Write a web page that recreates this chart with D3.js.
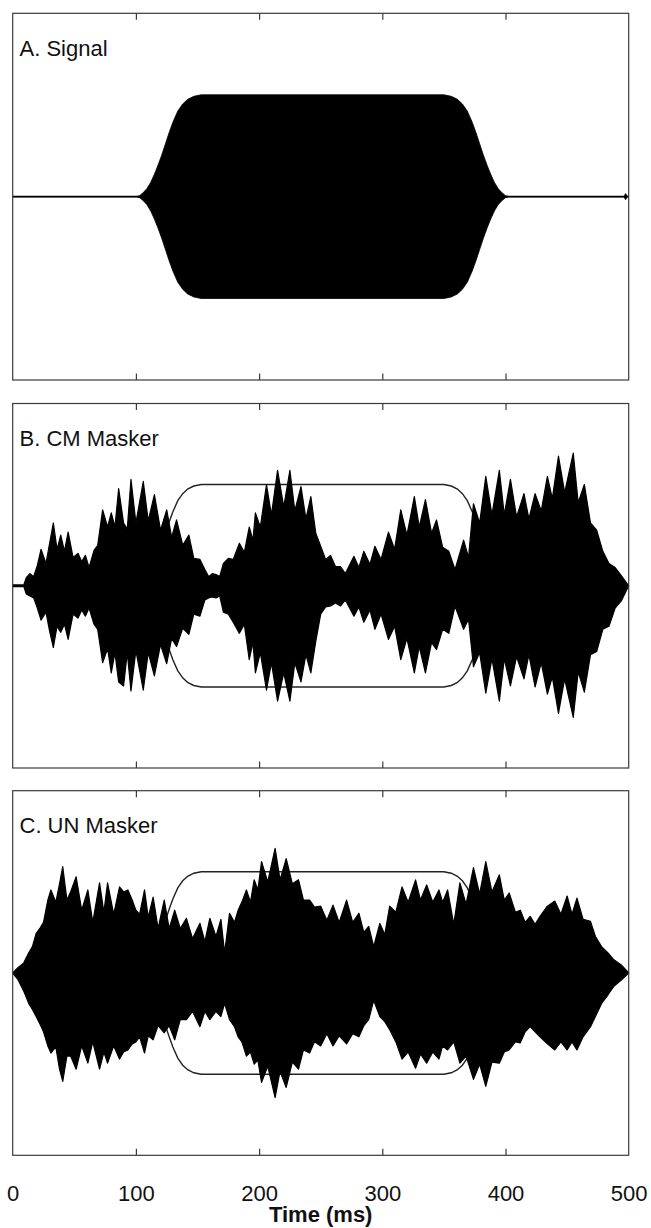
<!DOCTYPE html>
<html>
<head>
<meta charset="utf-8">
<script src="https://cdn.jsdelivr.net/npm/d3@7/dist/d3.min.js"></script>
<style>
  html, body { margin: 0; padding: 0; background: #fff; }
  svg { display: block; }
  text { font-family: "Liberation Sans", Arial, Helvetica, sans-serif; }
</style>
</head>
<body>
<div id="chart"></div>
<script>
// ---------------- DATA ----------------
const panelTitles = ["A. Signal", "B. CM Masker", "C. UN Masker"];
const xTicks = [0, 100, 200, 300, 400, 500];
const xLabel = "Time (ms)";

// Signal envelope (ms, amplitude)
const sigTime = [0, 100, 103, 106, 109, 112, 115, 118, 121, 124, 127, 130, 134, 138, 142, 147, 153,
                 350, 356, 361, 365, 369, 373, 376, 379, 382, 385, 388, 391, 394, 397, 400, 403,
                 496, 497.5, 499, 500];
const sigEnv  = [0, 0, 0.01, 0.04, 0.08, 0.14, 0.22, 0.31, 0.41, 0.52, 0.63, 0.73, 0.84, 0.91, 0.955, 0.985, 1.0,
                 1.0, 0.985, 0.955, 0.91, 0.84, 0.73, 0.63, 0.52, 0.41, 0.31, 0.22, 0.14, 0.08, 0.04, 0.01, 0,
                 0, 0.03, 0, 0];

// CM masker envelope: time (ms), upper extent, lower extent
const cmTime = [0, 9, 11, 14, 17, 20, 23, 27, 30, 33, 36, 39, 42, 45, 49, 53, 56, 59, 62, 66, 69, 73, 77, 80, 83, 86, 90, 93, 96, 100,
  106, 110, 115, 120, 125, 129, 133, 138, 143, 147, 152, 156, 159, 162, 165, 168, 171, 175, 179, 184, 188, 192, 195, 197, 201,
  206, 210, 215, 220, 225, 229, 234, 238, 242, 246, 250, 254, 258, 262, 266, 270, 277, 281, 285, 290, 294, 299, 305, 310,
  315, 320, 326, 330, 335, 340, 344, 349, 354, 359, 366, 370, 374, 379, 384, 389, 395, 399, 404, 409, 415, 419, 424, 429,
  434, 438, 443, 448, 455, 459, 464, 469, 474, 479, 484, 489, 494, 500];
const cmTop = [0.008, 0.008, 0.08, 0.12, 0.09, 0.20, 0.36, 0.22, 0.42, 0.62, 0.36, 0.50, 0.34, 0.53, 0.28, 0.32, 0.24, 0.30, 0.18, 0.35, 0.40, 0.75, 0.58, 0.72, 0.58, 0.96, 0.62, 0.56, 1.05, 0.62,
  1.03, 0.64, 0.90, 0.55, 0.75, 0.48, 0.65, 0.40, 0.50, 0.27, 0.26, 0.16, 0.09, 0.12, 0.11, 0.09, 0.22, 0.27, 0.26, 0.42, 0.33, 0.58, 0.45, 0.72, 0.58,
  1.00, 0.70, 1.14, 0.78, 1.14, 0.74, 0.98, 0.66, 0.88, 0.52, 0.39, 0.26, 0.30, 0.19, 0.19, 0.12, 0.29, 0.18, 0.34, 0.21, 0.39, 0.26, 0.53, 0.36,
  0.75, 0.50, 0.88, 0.58, 0.85, 0.52, 0.65, 0.38, 0.34, 0.16, 0.45, 0.28, 0.81, 0.62, 1.08, 0.70, 1.14, 0.70, 1.05, 0.68, 0.91, 0.66, 0.91, 0.74,
  1.08, 0.86, 1.28, 0.92, 1.31, 0.82, 1.00, 0.62, 0.55, 0.34, 0.22, 0.18, 0.10, 0.0];
const cmBot = [0.008, 0.008, 0.08, 0.10, 0.12, 0.22, 0.34, 0.26, 0.45, 0.61, 0.40, 0.46, 0.38, 0.53, 0.28, 0.32, 0.24, 0.30, 0.22, 0.38, 0.43, 0.76, 0.62, 0.86, 0.66, 0.95, 0.99, 0.66, 1.04, 0.64,
  1.03, 0.66, 0.89, 0.58, 0.77, 0.52, 0.60, 0.42, 0.48, 0.28, 0.30, 0.14, 0.12, 0.11, 0.12, 0.10, 0.26, 0.28, 0.36, 0.47, 0.38, 0.73, 0.56, 0.86, 0.66,
  1.03, 0.76, 1.14, 0.86, 1.14, 0.76, 0.95, 0.68, 0.86, 0.55, 0.28, 0.21, 0.20, 0.17, 0.20, 0.14, 0.30, 0.21, 0.36, 0.24, 0.43, 0.28, 0.53, 0.40,
  0.73, 0.52, 0.86, 0.60, 0.86, 0.56, 0.63, 0.43, 0.47, 0.20, 0.43, 0.33, 0.80, 0.66, 1.06, 0.72, 1.14, 0.72, 0.99, 0.70, 0.92, 0.68, 1.00, 0.76,
  1.07, 0.90, 1.26, 0.92, 1.30, 0.85, 1.05, 0.68, 0.65, 0.43, 0.40, 0.22, 0.15, 0.0];

// UN masker envelope: time (ms), upper extent, lower extent
const unTime = [0, 4, 9, 13, 16, 19, 22, 25, 28.5, 31, 35, 38, 40.6, 44, 47, 51.5, 56, 61, 65, 70.5, 74, 77, 82, 86.7, 90, 93.5, 97, 100,
  103, 107, 110, 114, 118, 123, 127, 131.5, 136, 141, 146, 152, 156, 160, 165, 169, 172, 176, 180, 183, 186, 189.7, 193, 196, 199,
  202, 207, 213, 217, 222, 227, 232, 236, 241, 245, 250, 255, 260, 265, 271, 276, 281, 285, 289, 293, 298, 302, 306, 311,
  316, 321, 327, 331, 336, 341, 346, 349, 353, 358, 363, 368, 374, 379, 384, 389, 395, 399, 403, 408, 412, 416, 420, 424,
  428, 434, 440, 445, 450, 454, 458, 463, 469, 473, 478, 483, 488, 494, 500];
const unTop = [0.0, 0.05, 0.10, 0.20, 0.26, 0.39, 0.44, 0.50, 0.72, 0.82, 0.70, 0.88, 1.05, 0.72, 0.80, 0.95, 0.62, 0.82, 0.50, 0.89, 0.60, 0.89, 0.58, 0.85, 0.80, 0.82, 0.72, 0.62,
  0.58, 0.82, 0.55, 0.75, 0.44, 0.72, 0.44, 0.62, 0.44, 0.54, 0.34, 0.49, 0.31, 0.54, 0.36, 0.53, 0.20, 0.59, 0.50, 0.62, 0.70, 0.82, 0.70, 0.92, 0.82,
  1.10, 0.90, 1.23, 0.92, 1.13, 0.88, 0.92, 0.72, 0.72, 0.65, 0.66, 0.52, 0.67, 0.50, 0.72, 0.50, 0.59, 0.40, 0.46, 0.26, 0.49, 0.38, 0.66, 0.60,
  0.85, 0.70, 0.92, 0.72, 0.87, 0.70, 0.82, 0.70, 0.82, 0.48, 0.89, 0.68, 1.04, 0.78, 1.10, 0.80, 0.97, 0.72, 0.79, 0.60, 0.62, 0.50, 0.56, 0.48,
  0.56, 0.66, 0.71, 0.58, 0.76, 0.58, 0.74, 0.53, 0.51, 0.36, 0.26, 0.20, 0.13, 0.08, 0.0];
const unBot = [0.0, 0.06, 0.18, 0.30, 0.36, 0.43, 0.50, 0.58, 0.72, 0.79, 0.73, 0.95, 1.07, 0.82, 0.82, 0.95, 0.72, 0.89, 0.68, 0.95, 0.78, 0.89, 0.72, 0.85, 0.78, 0.76, 0.70, 0.68,
  0.63, 0.79, 0.62, 0.66, 0.52, 0.59, 0.52, 0.66, 0.46, 0.46, 0.38, 0.53, 0.38, 0.46, 0.38, 0.43, 0.30, 0.46, 0.53, 0.63, 0.68, 0.82, 0.78, 0.90, 0.86,
  1.08, 0.92, 1.23, 0.97, 1.13, 0.88, 0.95, 0.76, 0.79, 0.68, 0.72, 0.60, 0.72, 0.62, 0.70, 0.60, 0.63, 0.52, 0.46, 0.27, 0.43, 0.48, 0.56, 0.68,
  0.85, 0.78, 0.94, 0.80, 0.89, 0.78, 0.85, 0.72, 0.76, 0.68, 0.89, 0.82, 1.05, 0.90, 1.12, 0.88, 0.89, 0.78, 0.76, 0.68, 0.69, 0.58, 0.53, 0.58,
  0.63, 0.70, 0.76, 0.68, 0.76, 0.68, 0.76, 0.63, 0.53, 0.43, 0.30, 0.22, 0.13, 0.07, 0.0];

// ---------------- LAYOUT ----------------
const W = 651, H = 1228;
const left = 12.7, right = 628.7;
const panels = [
  { top: 13.3, bottom: 380 },
  { top: 403.5, bottom: 768 },
  { top: 790.7, bottom: 1155.3 }
];

const svg = d3.select("#chart").append("svg").attr("width", W).attr("height", H);
const x = d3.scaleLinear().domain([0, 500]).range([left, right]);

function rows(t, a, b) { return t.map((d, i) => ({ t: d, hi: a[i], lo: b ? b[i] : a[i] })); }
const sigRows = rows(sigTime, sigEnv);
const maskers = [null, rows(cmTime, cmTop, cmBot), rows(unTime, unTop, unBot)];

panels.forEach((p, i) => {
  const y = d3.scaleLinear().domain([-1.8, 1.8]).range([p.bottom, p.top]);
  const g = svg.append("g");

  const area = d3.area().x(d => x(d.t)).y0(d => y(-d.lo)).y1(d => y(d.hi));

  if (i === 0) {
    g.append("line").attr("x1", x(0)).attr("x2", x(500)).attr("y1", y(0)).attr("y2", y(0))
      .attr("stroke", "#000").attr("stroke-width", 1.6);
    g.append("path").datum(sigRows).attr("d", area)
      .attr("fill", "#000").attr("stroke", "#000").attr("stroke-width", 0.8);
  } else {
    // signal outline first (sits under the masker, visible only in the gaps)
    const lineTop = d3.line().x(d => x(d.t)).y(d => y(d.hi));
    const lineBot = d3.line().x(d => x(d.t)).y(d => y(-d.hi));
    const outline = sigRows.filter(d => d.t >= 100 && d.t <= 403);
    g.append("path").datum(outline).attr("d", lineTop).attr("fill", "none").attr("stroke", "#222").attr("stroke-width", 1.4);
    g.append("path").datum(outline).attr("d", lineBot).attr("fill", "none").attr("stroke", "#222").attr("stroke-width", 1.4);
    g.append("path").datum(maskers[i]).attr("d", area)
      .attr("fill", "#000").attr("stroke", "#000").attr("stroke-width", 1.2).attr("stroke-linejoin", "round");
  }

  // frame
  g.append("rect").attr("x", left).attr("y", p.top).attr("width", right - left).attr("height", p.bottom - p.top)
    .attr("fill", "none").attr("stroke", "#3a3a3a").attr("stroke-width", 1.2);

  // inner ticks top & bottom
  const topAxis = d3.axisBottom(x).tickValues(xTicks.slice(1, -1)).tickSize(6.5).tickFormat("");
  const botAxis = d3.axisTop(x).tickValues(xTicks.slice(1, -1)).tickSize(6.5).tickFormat("");
  const ta = g.append("g").attr("transform", `translate(0,${p.top})`).call(topAxis);
  const ba = g.append("g").attr("transform", `translate(0,${p.bottom})`).call(botAxis);
  [ta, ba].forEach(a => {
    a.select(".domain").remove();
    a.selectAll(".tick line").attr("stroke", "#3a3a3a").attr("stroke-width", 1.2);
  });

  g.append("text").attr("x", 19.5).attr("y", p.top + 42.5)
    .attr("font-size", 22).attr("fill", "#111").text(panelTitles[i]);
});

// bottom tick labels
const last = panels[2];
const labAxis = d3.axisBottom(x).tickValues(xTicks).tickSize(0).tickPadding(0).tickFormat(d3.format("d"));
const la = svg.append("g").attr("transform", `translate(0,${last.bottom})`).call(labAxis);
la.select(".domain").remove();
la.selectAll(".tick text").attr("y", 45.5).attr("dy", 0)
  .attr("font-size", 22).attr("font-family", "'Liberation Sans', Arial, sans-serif").attr("fill", "#111");

svg.append("text").attr("x", (left + right) / 2).attr("y", last.bottom + 66.5)
  .attr("text-anchor", "middle").attr("font-size", 22).attr("font-weight", "bold")
  .attr("fill", "#111").text(xLabel);
</script>
</body>
</html>
